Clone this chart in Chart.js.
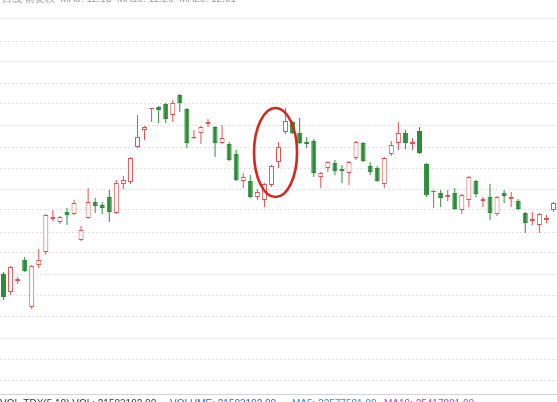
<!DOCTYPE html>
<html><head><meta charset="utf-8">
<script src="https://cdn.jsdelivr.net/npm/chart.js@4.4.1/dist/chart.umd.min.js"></script>
<style>html,body{margin:0;padding:0;background:#fff;overflow:hidden}canvas{display:block}</style>
</head><body>
<canvas id="c" width="557" height="402"></canvas>
<script>
// Daily candles (price units)
const opens  = [11.26,11.08,11.19,11.40,10.93,11.35,11.48,11.81,11.78,11.88,11.86,11.60,11.82,11.98,11.95,12.03,11.87,12.16,12.18,12.53,
                12.70,12.91,12.93,12.96,12.85,13.05,12.91,12.62,12.67,12.76,12.73,12.57,12.56,12.46,12.19,12.19,12.03,12.00,12.15,12.38,
                12.68,12.78,12.67,12.58,12.59,12.23,12.32,12.37,12.31,12.27,12.42,12.57,12.34,12.32,12.16,12.46,12.57,12.67,12.56,12.69,
                12.36,12.08,12.07,12.03,12.07,11.90,12.00,12.19,11.99,12.03,11.86,12.07,12.01,11.99,11.87,11.79,11.75,11.80,11.90];
const highs  = [11.28,11.34,11.23,11.43,11.35,11.51,11.86,11.90,11.84,11.92,12.00,11.74,12.12,12.02,11.98,12.10,12.20,12.24,12.43,12.85,
                12.74,12.92,12.94,12.97,13.00,13.06,12.92,12.70,12.74,12.81,12.74,12.75,12.58,12.50,12.27,12.25,12.11,12.17,12.35,12.58,
                12.92,12.79,12.82,12.63,12.61,12.28,12.39,12.40,12.35,12.39,12.59,12.58,12.38,12.34,12.43,12.59,12.78,12.70,12.62,12.73,
                12.37,12.10,12.10,12.10,12.12,12.06,12.24,12.20,12.03,12.16,12.04,12.10,12.08,12.01,11.88,11.88,11.87,11.85,11.98];
const lows   = [11.00,11.05,11.16,11.28,10.91,11.32,11.45,11.79,11.76,11.75,11.85,11.59,11.81,11.87,11.86,11.78,11.86,12.11,12.16,12.52,
                12.60,12.78,12.77,12.77,12.78,12.88,12.52,12.61,12.56,12.73,12.43,12.56,12.39,12.19,12.12,12.02,12.00,11.93,12.13,12.32,
                12.66,12.66,12.56,12.52,12.23,12.12,12.28,12.25,12.17,12.15,12.40,12.38,12.25,12.18,12.12,12.44,12.50,12.51,12.50,12.46,
                12.03,11.92,11.93,11.99,11.90,11.86,11.93,12.03,11.93,11.80,11.84,11.97,11.93,11.90,11.67,11.75,11.67,11.77,11.88];
const closes = [11.03,11.33,11.21,11.29,11.34,11.40,11.85,11.83,11.83,11.85,11.97,11.70,11.98,11.94,11.92,11.88,12.17,12.20,12.42,12.63,
                12.73,12.92,12.90,12.81,12.97,12.97,12.57,12.63,12.73,12.78,12.57,12.62,12.40,12.20,12.23,12.03,12.08,12.16,12.34,12.53,
                12.79,12.67,12.57,12.56,12.27,12.27,12.38,12.29,12.29,12.38,12.58,12.39,12.28,12.19,12.42,12.55,12.67,12.57,12.58,12.47,
                12.05,12.09,12.02,12.05,11.91,12.05,12.23,12.06,12.01,11.87,12.03,12.04,12.03,11.91,11.77,11.81,11.86,11.82,11.97];
const days = opens.map((_, i) => 'D' + (i + 1));

// Dotted horizontal guide levels and visible value window
const gridLevels = [13.81,13.59,13.38,13.17,12.96,12.75,12.53,12.32,12.11,11.90,11.68,11.47,11.26,11.05,10.84,10.62,10.41,10.20];
const yMin = 9.98, yMax = 14.00;

// Highlighted area (red ellipse): center bar index, center price, half-width in bars, half-height in price
const highlight = { center: 38.58, level: 12.475, halfBars: 3.05, halfRange: 0.445 };

const topCaption = '日线 前复权  MA5: 12.18  MA10: 12.20  MA20: 12.31';
const bottomCaption = [
  { text: 'VOL-TDX(5,10) VOL: 21503192.00', color: '#333333', x: 0 },
  { text: 'VOLUME: 21503192.00', color: '#2f64c8', x: 170 },
  { text: 'MA5: 22577581.00', color: '#2a8fc0', x: 292 },
  { text: 'MA10: 25417881.00', color: '#b83cb8', x: 384 }
];

const RED = '#e25050', GREEN = '#2c8c3a';
const up = opens.map((o, i) => closes[i] >= o);

const overlay = {
  id: 'overlay',
  afterDatasetsDraw(chart) {
    const { ctx, scales: { x, y } } = chart;
    const cx = x.getPixelForValue(highlight.center);
    const rx = Math.abs(x.getPixelForValue(highlight.center + highlight.halfBars) - cx);
    const cy = y.getPixelForValue(highlight.level);
    const ry = Math.abs(y.getPixelForValue(highlight.level + highlight.halfRange) - cy);
    ctx.save();
    ctx.beginPath();
    ctx.ellipse(cx, cy, rx, ry, 0, 0, Math.PI * 2);
    ctx.lineWidth = 2.6;
    ctx.strokeStyle = '#d8251d';
    ctx.stroke();
    ctx.restore();
  },
  afterDraw(chart) {
    const { ctx } = chart;
    ctx.save();
    ctx.strokeStyle = '#d2d2d2';
    ctx.lineWidth = 1;
    ctx.beginPath();
    ctx.moveTo(0, 394.5); ctx.lineTo(557, 394.5);
    ctx.stroke();
    ctx.font = '10px "Liberation Sans", Arial, sans-serif';
    ctx.textBaseline = 'alphabetic';
    ctx.fillStyle = '#9a9a9a';
    ctx.fillText(topCaption, 2, 1.5);
    bottomCaption.forEach(s => { ctx.fillStyle = s.color; ctx.fillText(s.text, s.x, 407); });
    ctx.restore();
  }
};

new Chart(document.getElementById('c'), {
  type: 'bar',
  data: {
    labels: days,
    datasets: [
      {
        label: 'body',
        data: opens.map((o, i) => [o, closes[i]]),
        backgroundColor: up.map(u => u ? '#ffffff' : GREEN),
        borderColor: up.map(u => u ? RED : GREEN),
        borderWidth: 1,
        borderSkipped: false,
        barThickness: 5,
        minBarLength: 1,
        grouped: false,
        inflateAmount: 0,
        order: 0
      },
      {
        label: 'wick',
        data: lows.map((l, i) => [l, highs[i]]),
        backgroundColor: up.map(u => u ? RED : GREEN),
        borderWidth: 0,
        barThickness: 1,
        grouped: false,
        inflateAmount: 0,
        order: 1
      }
    ]
  },
  options: {
    responsive: false,
    devicePixelRatio: 1,
    animation: false,
    events: [],
    layout: { padding: 0 },
    plugins: { legend: { display: false }, tooltip: { enabled: false }, title: { display: false } },
    scales: {
      x: { type: 'category', display: false, offset: true },
      y: {
        type: 'linear', min: yMin, max: yMax, display: true,
        afterBuildTicks: (scale) => { scale.ticks = gridLevels.map(v => ({ value: v })); },
        ticks: { display: false },
        grid: { color: '#e0e0e0', drawTicks: false, lineWidth: 1 },
        border: { display: false, dash: [2, 2] }
      }
    }
  },
  plugins: [overlay]
});
</script>
</body></html>
